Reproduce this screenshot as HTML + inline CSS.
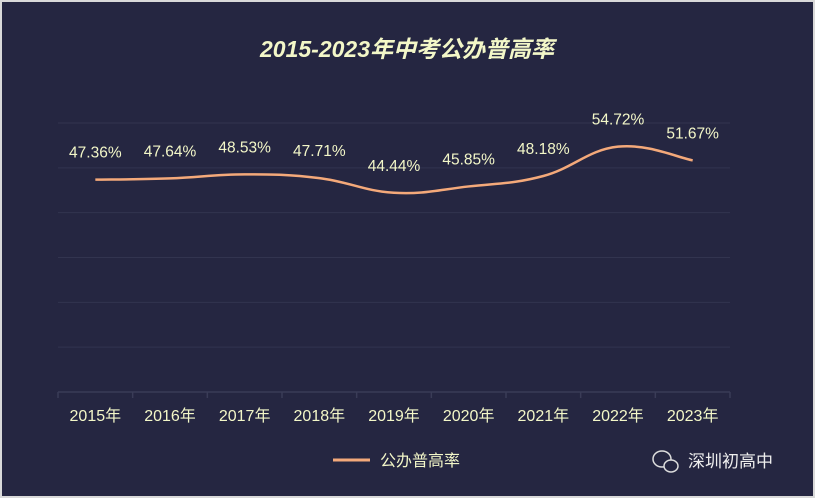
<!DOCTYPE html>
<html><head><meta charset="utf-8"><style>
body{margin:0;background:#d9d9d9}
#wrap{position:absolute;left:2px;top:2px;width:811px;height:494px;background:#252641;overflow:hidden}
svg{position:absolute;left:-2px;top:-2px}
text{font-family:"Liberation Sans","Noto Sans CJK SC",sans-serif}
</style></head><body>
<div id="wrap">
<svg id="c" width="815" height="498">
<text x="407" y="57" text-anchor="middle" font-size="23" font-weight="bold" font-style="italic" fill="#f3f7c8">2015-2023年中考公办普高率</text>
<g id="grid"></g><g id="axis"></g><g id="series"></g>
<g>
<line x1="333" y1="460" x2="370" y2="460" stroke="#f4a97a" stroke-width="3"/>
<text x="380" y="466" font-size="16" fill="#f3f7c8">公办普高率</text>
</g>
<g>
<ellipse cx="662" cy="459" rx="9" ry="8" fill="none" stroke="#ddd" stroke-width="1.5"/>
<ellipse cx="671" cy="466" rx="7" ry="6" fill="#252641" stroke="#ddd" stroke-width="1.5"/>
<text x="688" y="467" font-size="17" fill="#eee">深圳初高中</text>
</g>
</svg></div>
<script>
const categories=["2015年","2016年","2017年","2018年","2019年","2020年","2021年","2022年","2023年"];
const values=[47.36,47.64,48.53,47.71,44.44,45.85,48.18,54.72,51.67];
const yTicks=[0,10,20,30,40,50,60];
const NS="http://www.w3.org/2000/svg";
const L=58,R=730,T=123,B=392,yMax=60;
const bw=(R-L)/categories.length;
const x=i=>L+bw*(i+0.5);
const y=v=>B-(v/yMax)*(B-T);
function mk(t,a,p){const e=document.createElementNS(NS,t);for(const k in a)e.setAttribute(k,a[k]);p.appendChild(e);return e;}
const grid=document.getElementById('grid'),axis=document.getElementById('axis'),ser=document.getElementById('series');
yTicks.forEach(v=>{if(v===0)return;const l=mk('line',{x1:L,x2:R,y1:y(v),y2:y(v),stroke:'#32344f','stroke-width':1},grid);

});
const ax=mk('line',{x1:L,x2:R,y1:B,y2:B,stroke:'#3a3c57','stroke-width':1.5},axis);


for(let i=0;i<=categories.length;i++){mk('line',{x1:L+bw*i,x2:L+bw*i,y1:B,y2:B+6,stroke:'#3a3c57','stroke-width':1.5},axis);}
categories.forEach((c,i)=>{const t=mk('text',{x:x(i),y:B+29,'text-anchor':'middle','font-size':16,fill:'#f3f7c8'},axis);t.textContent=c;

});
const pts=values.map((v,i)=>[x(i),y(v)]);
let d=`M${pts[0][0]},${pts[0][1]}`;
for(let i=0;i<pts.length-1;i++){const p0=pts[i-1]||pts[i],p1=pts[i],p2=pts[i+1],p3=pts[i+2]||p2,s=0.2;
d+=` C${p1[0]+(p2[0]-p0[0])*s},${p1[1]+(p2[1]-p0[1])*s} ${p2[0]-(p3[0]-p1[0])*s},${p2[1]-(p3[1]-p1[1])*s} ${p2[0]},${p2[1]}`;}
const path=mk('path',{d:d,fill:'none',stroke:'#f4a97a','stroke-width':2.5},ser);


values.forEach((v,i)=>{const t=mk('text',{x:x(i),y:y(v)-22,'text-anchor':'middle','font-size':15.5,fill:'#f3f7c8'},ser);t.textContent=v.toFixed(2)+'%';

});
</script>
</body></html>
